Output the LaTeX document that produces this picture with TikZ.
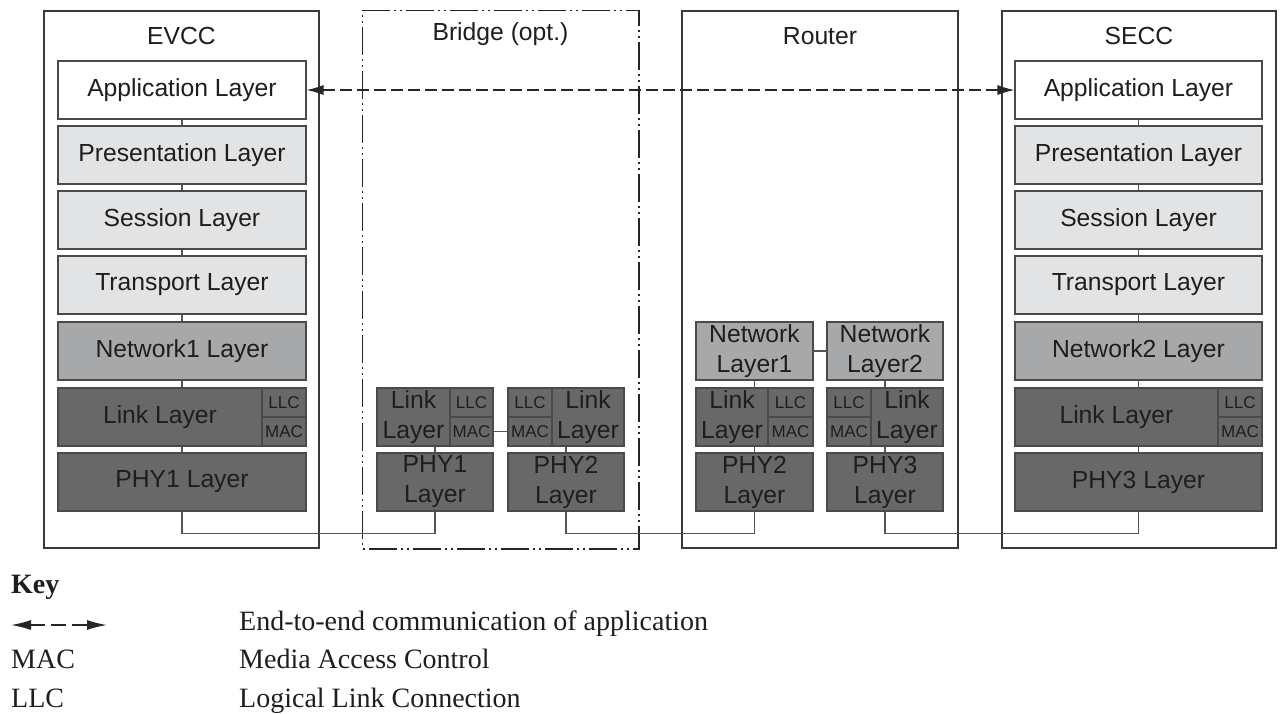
\documentclass[tikz,border=0pt]{standalone}
\usepackage{fontspec}
\setmainfont{Liberation Serif}
\newfontfamily\arialf{Liberation Sans}
\usetikzlibrary{arrows.meta}
\definecolor{bordc}{HTML}{4A4A4A}
\definecolor{outc}{HTML}{3A3A3A}
\definecolor{lightc}{HTML}{E2E3E5}
\definecolor{midc}{HTML}{A7A8AA}
\definecolor{darkc}{HTML}{686868}
\definecolor{txtc}{HTML}{1E1E1E}
\definecolor{wirec}{HTML}{555555}
\newcommand\lyrfont{\arialf\fontsize{24.7pt}{30pt}\selectfont}
\newcommand\smallfont{\arialf\fontsize{17pt}{18pt}\selectfont}
\newcommand\keyfont{\fontsize{28pt}{32pt}\selectfont}
\tikzset{
  outer/.style={draw=outc, line width=1.2pt, minimum height=537pt, inner sep=0pt},
  bridgeline/.style={draw=black!85, line width=1.8pt, dash pattern=on 28pt off 4pt on 2pt off 4pt on 2pt off 4pt},
  title/.style={font=\lyrfont, text=txtc, inner sep=0pt},
  layer/.style={draw=bordc, line width=1.1pt, minimum height=58pt, inner sep=0pt, font=\lyrfont, text=txtc},
  wlayer/.style={layer, fill=white, minimum width=248pt},
  llayer/.style={layer, fill=lightc, minimum width=248pt},
  mlayer/.style={layer, fill=midc},
  dlayer/.style={layer, fill=darkc},
  cell/.style={draw=bordc, line width=1.1pt, fill=darkc, minimum height=29pt, inner sep=0pt, font=\smallfont, text=txtc},
  ltext/.style={font=\lyrfont, text=txtc, inner sep=0pt, align=center},
  wire/.style={draw=wirec, line width=1.2pt},
  e2e/.style={draw=black!85, line width=1.2pt, dash pattern=on 12.5pt off 4.5pt, {Latex[length=17pt,width=10pt]}-{Latex[length=17pt,width=10pt]}},
  keytext/.style={font=\keyfont, text=txtc, inner sep=0pt, anchor=base west},
}
\begin{document}
\begin{tikzpicture}[x=1pt,y=-1pt]
\useasboundingbox (0,0) rectangle (1280,713);

% outer containers
\node[outer, minimum width=275pt] (evcc) at (181.5,279.5) {};
\node[outer, draw=none, minimum width=275pt] (bridge) at (500.5,279.5) {};
\draw[bridgeline] (bridge.north west) -- (bridge.north east) -- (bridge.south east) -- (bridge.south west) -- cycle;
\node[outer, minimum width=276pt] (router) at (820,279.5) {};
\node[outer, minimum width=274pt] (secc) at (1139,279.5) {};

\node[title] (tEVCC) at (181.5,36) {EVCC};
\node[title] (tBridge) at (500.5,34) {Bridge (opt.)};
\node[title] (tRouter) at (820,36) {Router};
\node[title] (tSECC) at (1139,36) {SECC};

% ---------- EVCC stack ----------
\node[wlayer] (appE) at (182,90) {Application Layer};
\node[llayer] (presE) at (182,155) {Presentation Layer};
\node[llayer] (sessE) at (182,220) {Session Layer};
\node[llayer] (transE) at (182,285) {Transport Layer};
\node[mlayer, minimum width=248pt] (netE) at (182,351) {Network1 Layer};
\node[dlayer, minimum width=248pt] (linkE) at (182,417) {};
\node[ltext] (linkEt) at (160,417) {Link Layer};
\node[cell, minimum width=44pt] (llcE) at (284,402.5) {LLC};
\node[cell, minimum width=44pt] (macE) at (284,431.5) {MAC};
\node[dlayer, minimum width=248pt] (phyE) at (182,482) {PHY1 Layer};

% ---------- SECC stack ----------
\node[wlayer, minimum width=247pt] (appS) at (1138.5,90) {Application Layer};
\node[llayer, minimum width=247pt] (presS) at (1138.5,155) {Presentation Layer};
\node[llayer, minimum width=247pt] (sessS) at (1138.5,220) {Session Layer};
\node[llayer, minimum width=247pt] (transS) at (1138.5,285) {Transport Layer};
\node[mlayer, minimum width=247pt] (netS) at (1138.5,351) {Network2 Layer};
\node[dlayer, minimum width=247pt] (linkS) at (1138.5,417) {};
\node[ltext] (linkSt) at (1116.5,417) {Link Layer};
\node[cell, minimum width=44pt] (llcS) at (1240,402.5) {LLC};
\node[cell, minimum width=44pt] (macS) at (1240,431.5) {MAC};
\node[dlayer, minimum width=247pt] (phyS) at (1138.5,482) {PHY3 Layer};

% ---------- Bridge ----------
\node[dlayer, minimum width=116pt] (linkB1) at (435,417) {};
\node[ltext] (linkB1t) at (413.5,417) {Link\\Layer};
\node[cell, minimum width=43pt] (llcB1) at (471.5,402.5) {LLC};
\node[cell, minimum width=43pt] (macB1) at (471.5,431.5) {MAC};
\node[dlayer, minimum width=116pt, align=center] (phyB1) at (435,482) {PHY1\\Layer};

\node[dlayer, minimum width=116pt] (linkB2) at (566,417) {};
\node[ltext] (linkB2t) at (588,417) {Link\\Layer};
\node[cell, minimum width=44pt] (llcB2) at (530,402.5) {LLC};
\node[cell, minimum width=44pt] (macB2) at (530,431.5) {MAC};
\node[dlayer, minimum width=116pt, align=center] (phyB2) at (566,482) {PHY2\\Layer};

% ---------- Router ----------
\node[mlayer, minimum width=117pt, align=center] (netR1) at (754.5,351) {Network\\Layer1};
\node[mlayer, minimum width=116pt, align=center] (netR2) at (885,351) {Network\\Layer2};
\node[dlayer, minimum width=117pt] (linkR1) at (754.5,417) {};
\node[ltext] (linkR1t) at (732,417) {Link\\Layer};
\node[cell, minimum width=45pt] (llcR1) at (790.5,402.5) {LLC};
\node[cell, minimum width=45pt] (macR1) at (790.5,431.5) {MAC};
\node[dlayer, minimum width=117pt, align=center] (phyR1) at (754.5,482) {PHY2\\Layer};

\node[dlayer, minimum width=116pt] (linkR2) at (885,417) {};
\node[ltext] (linkR2t) at (907,417) {Link\\Layer};
\node[cell, minimum width=44pt] (llcR2) at (849,402.5) {LLC};
\node[cell, minimum width=44pt] (macR2) at (849,431.5) {MAC};
\node[dlayer, minimum width=116pt, align=center] (phyR2) at (885,482) {PHY3\\Layer};

% ---------- connectors ----------
\draw[wire] (appE.south) -- (presE.north);
\draw[wire] (presE.south) -- (sessE.north);
\draw[wire] (sessE.south) -- (transE.north);
\draw[wire] (transE.south) -- (netE.north);
\draw[wire] (netE.south) -- (linkE.north);
\draw[wire] (linkE.south) -- (phyE.north);

\draw[wire] (appS.south) -- (presS.north);
\draw[wire] (presS.south) -- (sessS.north);
\draw[wire] (sessS.south) -- (transS.north);
\draw[wire] (transS.south) -- (netS.north);
\draw[wire] (netS.south) -- (linkS.north);
\draw[wire] (linkS.south) -- (phyS.north);

\draw[wire] (linkB1.south) -- (phyB1.north);
\draw[wire] (linkB2.south) -- (phyB2.north);
\draw[wire] (macB1.east) -- (macB2.west);

\draw[wire] (netR1.south) -- (linkR1.north);
\draw[wire] (linkR1.south) -- (phyR1.north);
\draw[wire] (netR2.south) -- (linkR2.north);
\draw[wire] (linkR2.south) -- (phyR2.north);
\draw[wire] (netR1.east) -- (netR2.west);

\draw[wire] (phyE.south) -- ++(0,22) -| (phyB1.south);
\draw[wire] (phyB2.south) -- ++(0,22) -| (phyR1.south);
\draw[wire] (phyR2.south) -- ++(0,22) -| (phyS.south);

% end-to-end arrow
\draw[e2e] (appE.east) -- (appS.west);

% ---------- key ----------
\node[keytext, font=\keyfont\bfseries] (keyh) at (11,593) {Key};
\coordinate (ka) at (11,625);
\coordinate (kb) at (107,625);
\draw[draw=black!85, line width=1.5pt, dash pattern=on 15pt off 6pt, {Latex[length=20pt,width=10pt]}-{Latex[length=20pt,width=10pt]}] (ka) -- (kb);
\node[keytext] (k1) at (239,630) {End-to-end communication of application};
\node[keytext] (k2a) at (11,668) {MAC};
\node[keytext] (k2) at (239,668) {Media Access Control};
\node[keytext] (k3a) at (11,707) {LLC};
\node[keytext] (k3) at (239,707) {Logical Link Connection};
\end{tikzpicture}
\end{document}
